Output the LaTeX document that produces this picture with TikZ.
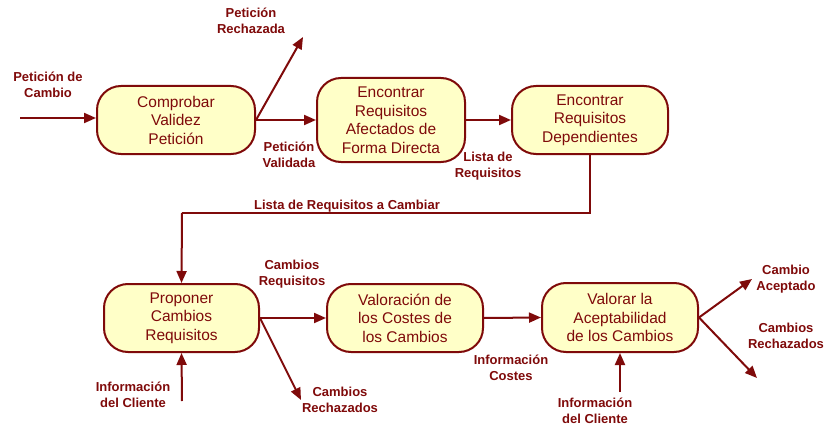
\documentclass[tikz,border=0pt]{standalone}
\usepackage{fontspec}
\setmainfont{Liberation Sans}
\usetikzlibrary{arrows.meta}
\definecolor{dred}{HTML}{7F0A0A}
\definecolor{cream}{HTML}{FFFFC8}
\begin{document}
\begin{tikzpicture}[x=1pt,y=-1pt,
  proc/.style={draw=dred,line width=2pt,fill=cream,rounded corners=24pt,
    text=dred,align=center,inner sep=0pt,
    font=\fontsize{15.5}{18.5}\selectfont},
  lbl/.style={text=dred,align=center,inner sep=0pt,
    font=\bfseries\fontsize{13}{16.5}\selectfont},
  arr/.style={draw=dred,line width=2pt,-{Triangle[length=12pt,width=10pt]}},
  ln/.style={draw=dred,line width=2pt}]
\useasboundingbox (0,0) rectangle (825,428);
% processes
\node[proc,minimum width=158pt,minimum height=68pt] (b1) at (176,120) {Comprobar\\Validez\\Petición};
\node[proc,minimum width=148pt,minimum height=84pt] (b2) at (391,120) {Encontrar\\Requisitos\\Afectados de\\Forma Directa};
\node[proc,minimum width=156pt,minimum height=68pt] (b3) at (590,120) {Encontrar\\Requisitos\\Dependientes};
\node[proc,minimum width=155pt,minimum height=68pt] (b4) at (181.5,318) {Proponer\\Cambios\\Requisitos};
\node[proc,minimum width=156pt,minimum height=68pt] (b5) at (405,318) {Valoración de\\los Costes de\\los Cambios};
\node[proc,minimum width=156pt,minimum height=69pt] (b6) at (620,317.5) {Valorar la\\Aceptabilidad\\de los Cambios};
% free ends
\coordinate (in1) at (20,118);
\coordinate (rej1) at (303,37);
\coordinate (c1) at (182,213);
\coordinate (cli1) at (182,401);
\coordinate (rej2) at (301,400);
\coordinate (cli2) at (620,392);
\coordinate (acc) at (752,279);
\coordinate (rej3) at (757,378);
% connectors
\draw[arr] (in1) -- (in1 -| b1.west);
\draw[arr] (b1.east) -- (rej1);
\draw[arr] (b1.east) -- (b2.west);
\draw[arr] (b2.east) -- (b3.west);
\draw[ln] (b3.south) |- (c1);
\draw[arr] (c1) -- (b4.north);
\draw[arr] (cli1) -- (b4.south);
\draw[arr] (b4.east) -- (b5.west);
\draw[arr] (b4.east) -- (rej2);
\draw[arr] (b5.east) -- (b6.west);
\draw[arr] (cli2) -- (b6.south);
\draw[arr] (b6.east) -- (acc);
\draw[arr] (b6.east) -- (rej3);
% labels
\node[lbl] (l1) at (48,85) {Petición de\\Cambio};
\node[lbl] (l2) at (251,21) {Petición\\Rechazada};
\node[lbl] (l3) at (289,155) {Petición\\Validada};
\node[lbl] (l4) at (488,166) {Lista de\\Requisitos};
\node[lbl] (l5) at (347,206) {Lista de Requisitos a Cambiar};
\node[lbl] (l6) at (292,274) {Cambios\\Requisitos};
\node[lbl] (l7) at (133,395) {Información\\del Cliente};
\node[lbl] (l8) at (340,400) {Cambios\\Rechazados};
\node[lbl] (l9) at (511,368) {Información\\Costes};
\node[lbl] (l10) at (595,411) {Información\\del Cliente};
\node[lbl] (l11) at (786,279) {Cambio\\Aceptado};
\node[lbl] (l12) at (786,336) {Cambios\\Rechazados};
\end{tikzpicture}
\end{document}
